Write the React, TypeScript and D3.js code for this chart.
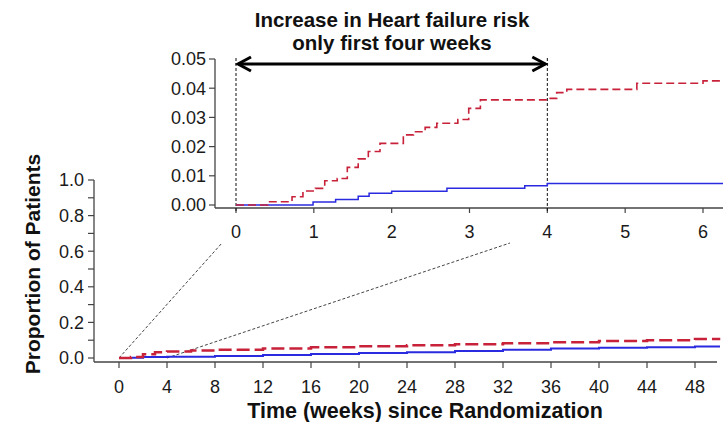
import React from 'react';
import * as d3 from 'd3';

// main chart: cumulative proportion by week
const mainWeeks = [0, 1, 2, 3, 4, 6, 8, 12, 16, 20, 24, 28, 32, 36, 40, 44, 48, 50];
const mainRed = [0, 0.005, 0.021, 0.033, 0.037, 0.042, 0.047, 0.054, 0.06, 0.066, 0.071, 0.077, 0.083, 0.089, 0.095, 0.1, 0.107, 0.114];
const mainBlueWeeks = [0, 1, 2, 4, 8, 12, 16, 20, 24, 28, 32, 36, 40, 44, 48, 50];
const mainBlue = [0, 0.001, 0.005, 0.007, 0.011, 0.017, 0.023, 0.028, 0.033, 0.039, 0.046, 0.053, 0.058, 0.061, 0.065, 0.07];

// inset: first six weeks, step changes
const insetRedWeeks = [0, 0.41, 0.72, 0.86, 1.02, 1.14, 1.3, 1.43, 1.57, 1.7, 1.85, 2.15, 2.28, 2.43, 2.58, 2.85, 2.99, 3.14, 4.01, 4.12, 4.25, 5.15, 6.0, 6.26];
const insetRed = [0, 0.0011, 0.0028, 0.0048, 0.0057, 0.0083, 0.0091, 0.0129, 0.0158, 0.0183, 0.0211, 0.024, 0.0251, 0.0266, 0.028, 0.0293, 0.0331, 0.036, 0.0365, 0.0385, 0.0396, 0.0417, 0.0425, 0.0425];
const insetBlueWeeks = [0, 0.99, 1.28, 1.57, 1.71, 2.0, 2.71, 3.71, 4.0, 6.26];
const insetBlue = [0, 0.001, 0.0019, 0.003, 0.004, 0.0047, 0.0057, 0.0066, 0.0074, 0.0074];

const mainXTicks = d3.range(0, 49, 4);
const mainYTicks = [0, 0.2, 0.4, 0.6, 0.8, 1.0];
const mainYMinor = [0.1, 0.3, 0.5, 0.7, 0.9];
const insetXTicks = [0, 1, 2, 3, 4, 5, 6];
const insetYTicks = [0, 0.01, 0.02, 0.03, 0.04, 0.05];

const titleLines = ['Increase in Heart failure risk', 'only first four weeks'];
const arrowWeeks = [0, 4];
// connector lines: main week -> inset week where they disappear behind the inset
const connectors = [{ main: 0, inset: -0.18 }, { main: 4, inset: 3.52 }];

const RED = '#c8213a';
const BLUE = '#2a2ae0';
const FONT = '"Liberation Sans", Arial, Helvetica, sans-serif';

function App() {
  const width = 723;
  const height = 422;

  const x = d3.scaleLinear().domain([-2, 50]).range([95, 719]);
  const y = d3.scaleLinear().domain([0, 1]).range([358, 180]);
  const ix = d3.scaleLinear().domain([0, 6]).range([236, 703]);
  const iy = d3.scaleLinear().domain([0, 0.05]).range([205, 59]);

  const mainAxisY = 362;
  const mainAxisX = 94;
  const insetAxisY = 208;
  const insetAxisX = 215;

  const lineMain = d3.line<[number, number]>()
    .x(d => x(d[0]))
    .y(d => y(d[1]))
    .curve(d3.curveStepAfter);
  const lineInset = d3.line<[number, number]>()
    .x(d => ix(d[0]))
    .y(d => iy(d[1]))
    .curve(d3.curveStepAfter);

  const redMainPts = mainWeeks.map((w, i) => [w, mainRed[i]] as [number, number]);
  const blueMainPts = mainBlueWeeks.map((w, i) => [w, mainBlue[i]] as [number, number]);
  const redInsetPts = insetRedWeeks.map((w, i) => [w, insetRed[i]] as [number, number]);
  const blueInsetPts = insetBlueWeeks.map((w, i) => [w, insetBlue[i]] as [number, number]);

  const arrowY = 64;
  const ax0 = ix(arrowWeeks[0]) + 2;
  const ax1 = ix(arrowWeeks[1]) - 2;

  return (
    <svg width={width} height={height} style={{ position: 'absolute', left: 0, top: 0, background: '#fff' }}
      fontFamily={FONT}>
      {/* connector dotted lines */}
      {connectors.map((c, i) => (
        <line key={i} x1={x(c.main)} y1={y(0)} x2={ix(c.inset)} y2={insetAxisY + 35}
          stroke="#444" strokeWidth={1} strokeDasharray="3,2" />
      ))}

      {/* main chart axes */}
      <line x1={mainAxisX} y1={y(1)} x2={mainAxisX} y2={mainAxisY} stroke="#444" strokeWidth={1.3} />
      <line x1={mainAxisX} y1={mainAxisY} x2={717} y2={mainAxisY} stroke="#444" strokeWidth={1.3} />
      {mainYTicks.map(t => (
        <g key={t}>
          <line x1={mainAxisX - 6} x2={mainAxisX} y1={y(t)} y2={y(t)} stroke="#444" strokeWidth={1.2} />
          <text x={mainAxisX - 10} y={y(t)} dy="0.35em" textAnchor="end" fontSize={18} fill="#1a1a1a">
            {d3.format('.1f')(t)}
          </text>
        </g>
      ))}
      {mainYMinor.map(t => (
        <line key={t} x1={mainAxisX - 6} x2={mainAxisX} y1={y(t)} y2={y(t)} stroke="#444" strokeWidth={1.2} />
      ))}
      {mainXTicks.map(t => (
        <g key={t}>
          <line x1={x(t)} x2={x(t)} y1={mainAxisY} y2={mainAxisY + 6} stroke="#444" strokeWidth={1.2} />
          <text x={x(t)} y={mainAxisY + 31} textAnchor="middle" fontSize={18} fill="#1a1a1a">{t}</text>
        </g>
      ))}
      <text x={425} y={418} textAnchor="middle" fontSize={21.5} fontWeight="bold" fill="#111">
        Time (weeks) since Randomization
      </text>
      <text transform={`translate(40,${(y(1) + mainAxisY) / 2 - 7}) rotate(-90)`} textAnchor="middle"
        fontSize={21} fontWeight="bold" fill="#111">
        Proportion of Patients
      </text>

      {/* main chart series */}
      <path d={lineMain(blueMainPts) || ''} fill="none" stroke={BLUE} strokeWidth={2} />
      <path d={lineMain(redMainPts) || ''} fill="none" stroke={RED} strokeWidth={2.5} strokeDasharray="13,5" />

      {/* inset */}
      <line x1={insetAxisX} y1={iy(0.05)} x2={insetAxisX} y2={insetAxisY} stroke="#444" strokeWidth={1.3} />
      <line x1={insetAxisX} y1={insetAxisY} x2={723} y2={insetAxisY} stroke="#444" strokeWidth={1.3} />
      {insetYTicks.map(t => (
        <g key={t}>
          <line x1={insetAxisX - 6} x2={insetAxisX} y1={iy(t)} y2={iy(t)} stroke="#444" strokeWidth={1.2} />
          <text x={insetAxisX - 9} y={iy(t)} dy="0.35em" textAnchor="end" fontSize={18} fill="#1a1a1a">
            {d3.format('.2f')(t)}
          </text>
        </g>
      ))}
      {insetXTicks.map(t => (
        <g key={t}>
          <line x1={ix(t)} x2={ix(t)} y1={insetAxisY} y2={insetAxisY + 5} stroke="#444" strokeWidth={1.2} />
          <text x={ix(t)} y={insetAxisY + 30} textAnchor="middle" fontSize={18} fill="#1a1a1a">{t}</text>
        </g>
      ))}

      {/* four-week window markers */}
      {arrowWeeks.map(w => (
        <line key={w} x1={ix(w)} x2={ix(w)} y1={58} y2={insetAxisY + 4} stroke="#111" strokeWidth={1}
          strokeDasharray="3,2" />
      ))}

      <path d={lineInset(blueInsetPts) || ''} fill="none" stroke={BLUE} strokeWidth={1.5} />
      <path d={lineInset(redInsetPts) || ''} fill="none" stroke={RED} strokeWidth={1.6} strokeDasharray="8,4" />

      {/* double arrow */}
      <line x1={ax0} y1={arrowY} x2={ax1} y2={arrowY} stroke="#000" strokeWidth={3} />
      <path d={`M${ax0 + 13},${arrowY - 7} L${ax0},${arrowY} L${ax0 + 13},${arrowY + 7}`}
        fill="none" stroke="#000" strokeWidth={3} strokeLinejoin="miter" />
      <path d={`M${ax1 - 13},${arrowY - 7} L${ax1},${arrowY} L${ax1 - 13},${arrowY + 7}`}
        fill="none" stroke="#000" strokeWidth={3} strokeLinejoin="miter" />

      {titleLines.map((t, i) => (
        <text key={i} x={392} y={27 + i * 23} textAnchor="middle" fontSize={20.5} fontWeight="bold" fill="#111">
          {t}
        </text>
      ))}
    </svg>
  );
}

export default App;
